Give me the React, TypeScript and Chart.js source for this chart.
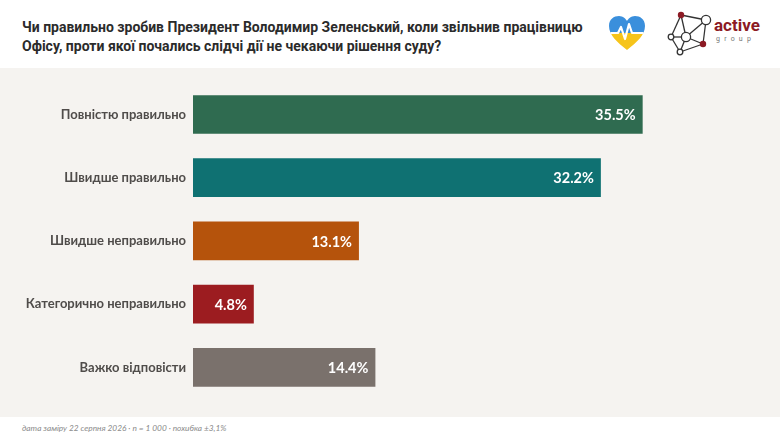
import React, { useEffect, useRef } from 'react';
import { Chart, registerables } from 'chart.js';

Chart.register(...registerables);

const categories = [
  'Повністю правильно',
  'Швидше правильно',
  'Швидше неправильно',
  'Категорично неправильно',
  'Важко відповісти',
];
const values = [35.5, 32.2, 13.1, 4.8, 14.4];
const barColors = ['#2f6b50', '#0f7172', '#b5530c', '#9c1c20', '#7a716c'];

const titleLines = [
  'Чи правильно зробив Президент Володимир Зеленський, коли звільнив працівницю',
  'Офісу, проти якої почались слідчі дії не чекаючи рішення суду?',
];
const footnote = 'дата заміру 22 серпня 2026 · n = 1 000 · похибка ±3,1%';

const valueLabels = {
  id: 'valueLabels',
  afterDatasetsDraw(chart: any) {
    const ctx = chart.ctx;
    const meta = chart.getDatasetMeta(0);
    ctx.save();
    ctx.font = 'bold 14.5px Lato, "Noto Sans", sans-serif';
    ctx.fillStyle = '#ffffff';
    ctx.textAlign = 'right';
    ctx.textBaseline = 'middle';
    meta.data.forEach((bar: any, i: number) => {
      ctx.fillText(values[i].toFixed(1) + '%', bar.x - 7, bar.y + 1);
    });
    ctx.restore();
  },
};

const Heart: React.FC = () => (
  <svg width="40" height="38" viewBox="0 0 40 38" style={{ position: 'absolute', left: 607, top: 14 }}>
    <defs>
      <clipPath id="hc">
        <path d="M20 36 C10 28 2 21 2 12 C2 5 7 2 12 2 C16 2 19 5 20 7 C21 5 24 2 28 2 C33 2 38 5 38 12 C38 21 30 28 20 36 Z" />
      </clipPath>
    </defs>
    <g clipPath="url(#hc)">
      <rect x="0" y="0" width="40" height="19" fill="#3a8fdc" />
      <rect x="0" y="19" width="40" height="20" fill="#f6c41b" />
      <polyline points="0,19 11,19 14,13 18,25 22,10 25,19 40,19" fill="none" stroke="#ffffff" strokeWidth="2.2" strokeLinejoin="round" />
    </g>
  </svg>
);

const ActiveLogo: React.FC = () => {
  const red = '#8c1a24';
  const line = '#333';
  return (
    <svg width="115" height="55" viewBox="0 0 115 55" style={{ position: 'absolute', left: 665, top: 5 }}>
      <g stroke={line} strokeWidth="1.3" fill="none">
        <line x1="16" y1="10" x2="41" y2="15" />
        <line x1="16" y1="10" x2="6" y2="32" />
        <line x1="16" y1="10" x2="21" y2="32" />
        <line x1="41" y1="15" x2="38" y2="39" />
        <line x1="41" y1="15" x2="21" y2="32" />
        <line x1="6" y1="32" x2="21" y2="32" />
        <line x1="6" y1="32" x2="15" y2="47" />
        <line x1="21" y1="32" x2="15" y2="47" />
        <line x1="21" y1="32" x2="38" y2="39" />
        <line x1="15" y1="47" x2="38" y2="39" />
      </g>
      <circle cx="16" cy="10" r="3.2" fill={red} />
      <circle cx="38" cy="39" r="3.2" fill={red} />
      <circle cx="41" cy="15" r="4.6" fill="#fff" stroke={line} strokeWidth="1.3" />
      <circle cx="21" cy="32" r="4.6" fill="#fff" stroke={line} strokeWidth="1.3" />
      <circle cx="6" cy="32" r="2.8" fill="#fff" stroke={line} strokeWidth="1.3" />
      <circle cx="15" cy="47" r="2.8" fill="#fff" stroke={line} strokeWidth="1.3" />
      <text x="49" y="26" fill={red} fontFamily="Roboto, sans-serif" fontWeight="bold" fontSize="17">active</text>
      <text x="51" y="36" fill="#777" fontFamily="Roboto, sans-serif" fontSize="7" letterSpacing="4.2">group</text>
    </svg>
  );
};

const App: React.FC = () => {
  const canvasRef = useRef<HTMLCanvasElement | null>(null);

  useEffect(() => {
    document.body.style.margin = '0';
    let chart: any = null;
    if (canvasRef.current) {
      chart = new Chart(canvasRef.current, {
        type: 'bar',
        data: {
          labels: categories,
          datasets: [
            {
              data: values,
              backgroundColor: barColors,
              borderWidth: 0,
              barPercentage: 0.61,
              categoryPercentage: 1,
            },
          ],
        },
        options: {
          indexAxis: 'y',
          animation: false,
          responsive: false,
          maintainAspectRatio: false,
          layout: { padding: { top: 11, bottom: 18, left: 0, right: 17 } },
          plugins: {
            legend: { display: false },
            title: { display: false },
            tooltip: { enabled: false },
          },
          scales: {
            x: {
              display: false,
              min: 0,
              max: 45,
              grid: { display: false },
            },
            y: {
              grid: { display: false, drawTicks: false },
              border: { display: false },
              afterFit: (scale: any) => {
                scale.width = 193;
              },
              ticks: {
                color: '#4f4c4a',
                padding: 7,
                font: { family: 'Lato, "Noto Sans", sans-serif', size: 13, weight: 'bold' },
              },
            },
          },
        },
        plugins: [valueLabels],
      } as any);
    }
    return () => {
      if (chart) {
        chart.destroy();
      }
    };
  }, []);

  return (
    <div style={{ position: 'relative', width: 780, height: 439, background: '#ffffff', overflow: 'hidden' }}>
      <div
        style={{
          position: 'absolute',
          left: 22,
          top: 18,
          fontFamily: 'Roboto, sans-serif',
          fontWeight: 'bold',
          fontSize: 14,
          lineHeight: '19px',
          color: '#2b2b2b',
          whiteSpace: 'nowrap',
        }}
      >
        {titleLines.map((t) => (
          <div key={t}>{t}</div>
        ))}
      </div>
      <Heart />
      <ActiveLogo />
      <div style={{ position: 'absolute', left: 0, top: 68, width: 780, height: 349, background: '#f5f3f0' }}>
        <canvas ref={canvasRef} width={780} height={349} style={{ width: 780, height: 349 }} />
      </div>
      <div
        style={{
          position: 'absolute',
          left: 22,
          top: 423,
          fontFamily: 'Lato, sans-serif',
          fontStyle: 'italic',
          fontSize: 8.3,
          color: '#8a8a8a',
        }}
      >
        {footnote}
      </div>
    </div>
  );
};

export default App;
